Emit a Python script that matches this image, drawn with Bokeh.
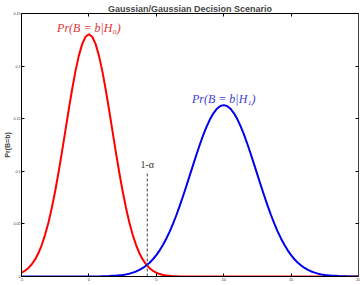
from bokeh.plotting import figure
from bokeh.models import LinearAxis, FixedTicker, Label, Range1d
from bokeh.embed import file_html
from bokeh.resources import INLINE

# ---- data ----
b_values = [-5, -4.75, -4.5, -4.25, -4, -3.75, -3.5, -3.25, -3, -2.75,
            -2.5, -2.25, -2, -1.75, -1.5, -1.25, -1, -0.75, -0.5, -0.25,
            0, 0.25, 0.5, 0.75, 1, 1.25, 1.5, 1.75, 2, 2.25,
            2.5, 2.75, 3, 3.25, 3.5, 3.75, 4, 4.25, 4.5, 4.75,
            5, 5.25, 5.5, 5.75, 6, 6.25, 6.5, 6.75, 7, 7.25,
            7.5, 7.75, 8, 8.25, 8.5, 8.75, 9, 9.25, 9.5, 9.75,
            10, 10.25, 10.5, 10.75, 11, 11.25, 11.5, 11.75, 12, 12.25,
            12.5, 12.75, 13, 13.25, 13.5, 13.75, 14, 14.25, 14.5, 14.75,
            15, 15.25, 15.5, 15.75, 16, 16.25, 16.5, 16.75, 17, 17.25,
            17.5, 17.75, 18, 18.25, 18.5, 18.75, 19, 19.25, 19.5, 19.75,
            20]
pr_h0 = [0.0036, 0.0054, 0.0079, 0.0114, 0.0160, 0.0221, 0.0299, 0.0396, 0.0514, 0.0653,
         0.0813, 0.0991, 0.1182, 0.1382, 0.1583, 0.1775, 0.1950, 0.2097, 0.2209, 0.2279,
         0.2303, 0.2279, 0.2209, 0.2097, 0.1950, 0.1775, 0.1583, 0.1382, 0.1182, 0.0991,
         0.0813, 0.0653, 0.0514, 0.0396, 0.0299, 0.0221, 0.0160, 0.0114, 0.0079, 0.0054,
         0.0036, 0.0023, 0.0015, 0.0009, 0.0006, 0.0003, 0.0002, 0.0001, 0.0001, 0.0,
         0.0, 0.0, 0.0, 0.0, 0.0, 0.0, 0.0, 0.0, 0.0, 0.0,
         0.0, 0.0, 0.0, 0.0, 0.0, 0.0, 0.0, 0.0, 0.0, 0.0,
         0.0, 0.0, 0.0, 0.0, 0.0, 0.0, 0.0, 0.0, 0.0, 0.0,
         0.0, 0.0, 0.0, 0.0, 0.0, 0.0, 0.0, 0.0, 0.0, 0.0,
         0.0, 0.0, 0.0, 0.0, 0.0, 0.0, 0.0, 0.0, 0.0, 0.0,
         0.0]
pr_h1 = [0.0, 0.0, 0.0, 0.0, 0.0, 0.0, 0.0, 0.0, 0.0, 0.0,
         0.0, 0.0, 0.0, 0.0, 0.0, 0.0, 0.0, 0.0, 0.0, 0.0,
         0.0, 0.0001, 0.0001, 0.0001, 0.0002, 0.0003, 0.0004, 0.0006, 0.0008, 0.0011,
         0.0015, 0.0020, 0.0027, 0.0037, 0.0048, 0.0063, 0.0081, 0.0104, 0.0131, 0.0164,
         0.0203, 0.0249, 0.0301, 0.0362, 0.0429, 0.0505, 0.0587, 0.0676, 0.0770, 0.0867,
         0.0968, 0.1068, 0.1167, 0.1262, 0.1351, 0.1430, 0.1499, 0.1554, 0.1595, 0.1621,
         0.1629, 0.1621, 0.1595, 0.1554, 0.1499, 0.1430, 0.1351, 0.1262, 0.1167, 0.1068,
         0.0968, 0.0867, 0.0770, 0.0676, 0.0587, 0.0505, 0.0429, 0.0362, 0.0301, 0.0249,
         0.0203, 0.0164, 0.0131, 0.0104, 0.0081, 0.0063, 0.0048, 0.0037, 0.0027, 0.0020,
         0.0015, 0.0011, 0.0008, 0.0006, 0.0004, 0.0003, 0.0002, 0.0001, 0.0001, 0.0001,
         0.0]

threshold_b = 4.33
threshold_top = 0.10

x_ticks = [-5, 0, 5, 10, 15, 20]
x_tick_labels = ["-5", "0", "5", "10", "15", "20"]
y_ticks = [0, 0.05, 0.1, 0.15, 0.2, 0.25]
y_tick_labels = ["0", "0.05", "0.1", "0.15", "0.2", "0.25"]

title_text = "Gaussian/Gaussian Decision Scenario"
h0_text = "Pr(B = b|H\u2080)"
h1_text = "Pr(B = b|H\u2081)"
alpha_text = "1-\u03b1"

# ---- figure ----
p = figure(width=360, height=285, output_backend="svg", toolbar_location=None,
           x_range=Range1d(-5, 20), y_range=Range1d(0, 0.25),
           min_border_left=21, min_border_right=2, min_border_top=13, min_border_bottom=9,
           x_axis_location=None, y_axis_location=None)
p.outline_line_color = None
p.grid.visible = False
p.background_fill_color = "white"
p.border_fill_color = "white"

p.title.text = title_text
p.title.align = "center"
p.title.text_font = "Liberation Sans"
p.title.text_font_size = "9px"
p.title.text_font_style = "bold"
p.title.standoff = 0
p.title.offset = 0

def make_axis(ticks, labels, show_labels):
    ax = LinearAxis(ticker=FixedTicker(ticks=ticks))
    if show_labels:
        ax.major_label_overrides = {t: l for t, l in zip(ticks, labels)}
    else:
        ax.major_label_overrides = {t: "" for t in ticks}
    ax.major_tick_in = 3
    ax.major_tick_out = 0
    ax.minor_tick_line_color = None
    ax.axis_line_color = "black"
    ax.major_tick_line_color = "black"
    ax.major_label_text_font = "Liberation Sans"
    ax.major_label_text_color = "#333333"
    ax.major_label_standoff = 1 if show_labels else 0
    ax.major_label_text_font_size = "4px" if show_labels else "1px"
    return ax

xb = make_axis(x_ticks, x_tick_labels, True)
p.add_layout(xb, "below")
xt = make_axis(x_ticks, x_tick_labels, False)
p.add_layout(xt, "above")

yl = make_axis(y_ticks, y_tick_labels, True)
yl.major_label_text_font_size = "3.6px"
yl.axis_label = "Pr(B=b)"
yl.axis_label_text_font = "Liberation Sans"
yl.axis_label_text_font_size = "7px"
yl.axis_label_text_font_style = "bold"
yl.axis_label_standoff = 0
p.add_layout(yl, "left")
yr = make_axis(y_ticks, y_tick_labels, False)
yr.axis_line_color = "#444444"
p.add_layout(yr, "right")

# ---- curves ----
p.line(b_values, pr_h0, line_color="#ff0000", line_width=2, line_join="round")
p.line(b_values, pr_h1, line_color="#0000ee", line_width=2, line_join="round")
p.segment(x0=[threshold_b], y0=[0], x1=[threshold_b], y1=[threshold_top],
          line_color="#444444", line_width=1, line_dash="3 2")

# ---- annotations ----
p.add_layout(Label(x=0, y=0.2365, text=h0_text, text_align="center", text_baseline="middle",
                   text_font="Liberation Serif", text_font_style="italic",
                   text_font_size="12px", text_color="#e03232"))
p.add_layout(Label(x=10, y=0.169, text=h1_text, text_align="center", text_baseline="middle",
                   text_font="Liberation Serif", text_font_style="italic",
                   text_font_size="12px", text_color="#3c3cd2"))
p.add_layout(Label(x=threshold_b, y=0.1067, text=alpha_text, text_align="center",
                   text_baseline="middle", text_font="Liberation Serif",
                   text_font_size="10px", text_color="#333333"))
p.add_layout(Label(x=7.5, y=-0.0028, text="b", text_align="center", text_baseline="top",
                   text_font="Liberation Sans", text_font_style="bold",
                   text_font_size="6px", text_color="black"))

open("out.html", "w").write(file_html(p, INLINE))
